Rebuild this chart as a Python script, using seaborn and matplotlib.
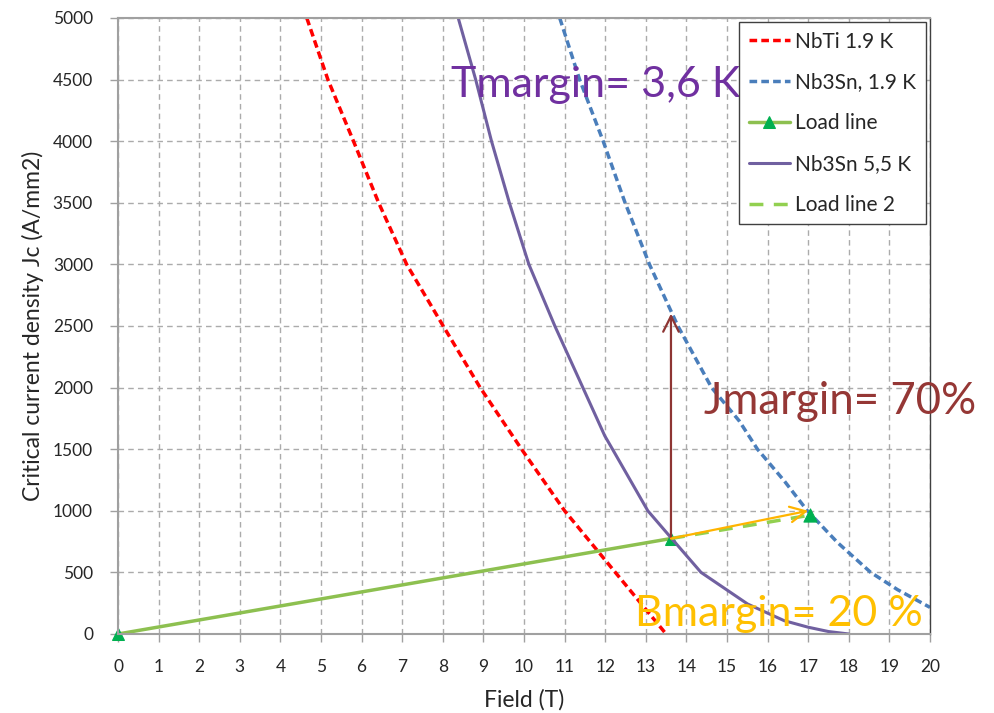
import matplotlib
matplotlib.use("Agg")
import matplotlib.pyplot as plt
import seaborn as sns
import pandas as pd

# ---- data ----
nbti_b = [4.65, 5.17, 5.80, 6.42, 7.11, 8.01, 8.92, 9.94, 11.0, 12.25, 13.5]
nbti_j = [5000, 4500, 4000, 3500, 3000, 2500, 2000, 1500, 1000, 500, 0]

nb3sn19_b = [10.88, 11.37, 11.95, 12.49, 13.09, 13.79, 14.62, 15.30, 15.75, 16.41,
             16.98, 17.72, 18.54, 19.2, 20.0]
nb3sn19_j = [5000, 4500, 4000, 3500, 3000, 2500, 2000, 1730, 1500, 1243,
             1000, 743, 500, 360, 216]

nb3sn55_b = [8.38, 8.81, 9.20, 9.64, 10.12, 10.76, 11.45, 11.99, 12.18, 13.05,
             13.58, 14.36, 15.51, 16.41, 17.0, 17.5, 18.0]
nb3sn55_j = [5000, 4500, 4000, 3500, 3000, 2500, 2000, 1608, 1500, 1000,
             797, 500, 243, 108, 55, 20, 0]

load_b = [0, 13.62]
load_j = [0, 775]
load2_b = [13.62, 17.05]
load2_j = [775, 965]

op_b, op_j = 13.62, 775
jmargin_top = 2600
bmargin_end = (17.0, 1000)

x_ticks = list(range(0, 21))
y_ticks = list(range(0, 5001, 500))

# ---- style ----
sns.set_theme(style="white")
plt.rcParams['font.family'] = ['Lato', 'DejaVu Sans']

fig = plt.figure(figsize=(9.94, 7.13), dpi=100)
ax = fig.add_axes([118/994, 1-634/713, (930-118)/994, (634-18)/713])

sns.lineplot(x=nbti_b, y=nbti_j, ax=ax, color='#FF0000', lw=2.5, sort=False,
             linestyle=(0, (2.2, 1.2)), label='NbTi 1.9 K')
sns.lineplot(x=nb3sn19_b, y=nb3sn19_j, ax=ax, color='#4A7EBB', lw=2.5, sort=False,
             linestyle=(0, (2.2, 1.2)), label='Nb3Sn, 1.9 K')
sns.lineplot(x=load_b, y=load_j, ax=ax, color='#8DC050', lw=2.5, sort=False,
             marker='^', markersize=9, markerfacecolor='#00B050', markeredgecolor='#00B050',
             label='Load line', clip_on=False)
sns.lineplot(x=nb3sn55_b, y=nb3sn55_j, ax=ax, color='#7060A0', lw=2.2, sort=False,
             label='Nb3Sn 5,5 K')
sns.lineplot(x=load2_b, y=load2_j, ax=ax, color='#92D050', lw=2.5, sort=False,
             linestyle=(0, (4, 3)), label='Load line 2')
sns.scatterplot(x=[load2_b[-1]], y=[load2_j[-1]], ax=ax, marker='^', s=90,
                color='#00B050', edgecolor='#00B050', legend=False, zorder=5)

# arrows
ax.annotate('', xy=(op_b, jmargin_top), xytext=(op_b, op_j),
            arrowprops=dict(arrowstyle='->', color='#8E3533', lw=1.6, mutation_scale=28,
                            shrinkA=0, shrinkB=0))
ax.annotate('', xy=bmargin_end, xytext=(op_b, op_j),
            arrowprops=dict(arrowstyle='->', color='#FFB400', lw=1.6, mutation_scale=28,
                            shrinkA=0, shrinkB=0))

# annotations
ax.text(8.2, 4357, 'Tmargin= 3,6 K', color='#7030A0', fontsize=31, va='baseline',
        ha='left', clip_on=False, zorder=6)
ax.text(14.44, 1784, 'Jmargin= 70%', color='#953735', fontsize=31.5, va='baseline',
        ha='left', clip_on=False, zorder=6)
ax.text(12.73, 67, 'Bmargin= 20 %', color='#FFC000', fontsize=31, va='baseline',
        ha='left', clip_on=False, zorder=6)

# axes
ax.set_xlim(0, 20)
ax.set_ylim(0, 5000)
ax.set_xticks(x_ticks)
ax.set_yticks(y_ticks)
ax.grid(True, color='#ABABAB', linestyle=(0, (4, 3)), lw=1)
ax.tick_params(axis='both', direction='out', length=6, width=1, color='#A0A0A0',
               labelsize=12.5, labelcolor='#262626', bottom=True, left=True)
ax.tick_params(axis='x', pad=12)
ax.tick_params(axis='y', pad=12)
for s in ax.spines.values():
    s.set_color('#A0A0A0')
    s.set_linewidth(1.5)
ax.spines['right'].set_color('#404040')
ax.spines['right'].set_linewidth(1)
ax.set_xlabel('Field (T)', fontsize=16.5, color='#262626', labelpad=10)
ax.set_ylabel('Critical current density Jc (A/mm2)', fontsize=16.5, color='#262626',
              labelpad=6)

leg = ax.legend(loc='upper right', bbox_to_anchor=(1.0, 1.0), borderaxespad=0.2,
                fontsize=15, frameon=True, fancybox=False, framealpha=1,
                edgecolor='#404040', handlelength=2.0, handletextpad=0.25,
                labelspacing=1.0, numpoints=1, borderpad=0.45)
leg.get_frame().set_linewidth(1)
leg.set_zorder(10)

fig.savefig('out.png', dpi=100)
